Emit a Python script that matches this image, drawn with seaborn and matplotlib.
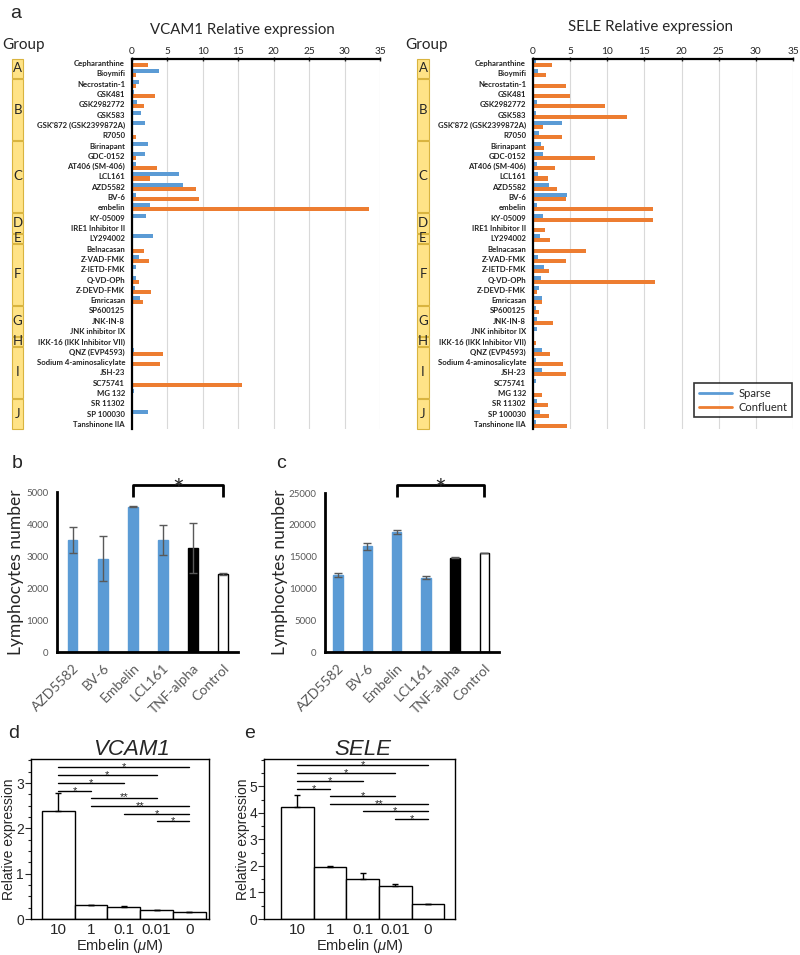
import numpy as np
import pandas as pd
import matplotlib
matplotlib.use('Agg')
import matplotlib.pyplot as plt
import seaborn as sns
import matplotlib.ticker as ticker
from matplotlib.patches import Rectangle
from matplotlib.lines import Line2D
from matplotlib.transforms import blended_transform_factory

sns.set_style('white')
plt.rcParams['font.family'] = ['Lato', 'DejaVu Sans']
plt.rcParams['mathtext.fontset'] = 'custom'
plt.rcParams['mathtext.rm'] = 'Liberation Sans'
plt.rcParams['mathtext.it'] = 'Liberation Sans:italic'

HELV = ['Liberation Sans', 'DejaVu Sans']
BLUE = '#5B9BD5'
ORANGE = '#ED7D31'
GRAY = '#595959'

# --- panel a: screening data ---
drugs = ['Cepharanthine', 'Bioymifi', 'Necrostatin-1', 'GSK481', 'GSK2982772', 'GSK583',
         "GSK'872 (GSK2399872A)", 'R7050', 'Birinapant', 'GDC-0152', 'AT406 (SM-406)',
         'LCL161', 'AZD5582', 'BV-6', 'embelin', 'KY-05009', 'IRE1 Inhibitor II', 'LY294002',
         'Belnacasan', 'Z-VAD-FMK', 'Z-IETD-FMK', 'Q-VD-OPh', 'Z-DEVD-FMK', 'Emricasan',
         'SP600125', 'JNK-IN-8', 'JNK inhibitor IX', 'IKK-16 (IKK Inhibitor VII)',
         'QNZ (EVP4593)', 'Sodium 4-aminosalicylate', 'JSH-23', 'SC75741', 'MG 132',
         'SR 11302', 'SP 100030', 'Tanshinone IIA']
groups = ['A', 'B', 'C', 'D', 'E', 'F', 'G', 'H', 'I', 'J']
group_sizes = [2, 6, 7, 2, 1, 6, 3, 1, 5, 3]

vcam_sparse = [0.1, 3.8, 1.0, 0.3, 0.7, 1.2, 1.8, 0.0, 2.2, 1.9, 0.5, 6.6, 7.2, 0.6, 2.5, 2.0,
               0.0, 3.0, 0.0, 1.0, 0.5, 0.5, 0.45, 1.1, 0.2, 0.15, 0.15, 0.0, 0.3, 0.1,
               0.0, 0.0, 0.3, 0.15, 2.3, 0.0]
vcam_confluent = [2.2, 0.5, 0.5, 3.3, 1.7, 0.0, 0.0, 0.5, 0.0, 0.5, 3.5, 2.6, 9.0, 9.4, 33.4, 0.0,
                  0.0, 0.0, 1.7, 2.4, 0.0, 1.0, 2.7, 1.5, 0.0, 0.0, 0.0, 0.0, 4.4, 3.9,
                  0.0, 15.5, 0.0, 0.0, 0.0, 0.0]
sele_sparse = [0.45, 0.7, 0.1, 0.1, 0.6, 0.45, 3.9, 0.8, 1.05, 1.35, 0.5, 0.7, 2.2, 4.6, 0.55, 1.35,
               0.15, 0.9, 0.1, 0.7, 1.45, 1.1, 0.8, 1.2, 0.45, 0.6, 0.5, 0.1, 1.2, 0.45,
               1.25, 0.45, 0.1, 0.5, 1.0, 0.45]
sele_confluent = [2.6, 1.8, 4.4, 5.0, 9.7, 12.7, 1.35, 3.9, 1.5, 8.4, 3.0, 2.0, 3.2, 4.5, 16.2, 16.2,
                  1.6, 2.3, 7.2, 4.4, 2.1, 16.4, 0.5, 1.2, 0.8, 2.7, 0.0, 0.4, 2.3, 4.1,
                  4.4, 0.1, 1.25, 2.0, 2.1, 4.55]

# --- panels b, c: lymphocyte adhesion ---
cells = ['AZD5582', 'BV-6', 'Embelin', 'LCL161', 'TNF-alpha', 'Control']
cell_colors = [BLUE, BLUE, BLUE, BLUE, 'black', 'white']
lymph_b = [3500, 2920, 4540, 3500, 3260, 2440]
lymph_b_err = [420, 690, 20, 470, 780, 20]
lymph_c = [12100, 16600, 18900, 11700, 14850, 15500]
lymph_c_err = [350, 500, 300, 200, 120, 0]

# --- panels d, e: embelin dose response ---
conc = ['10', '1', '0.1', '0.01', '0']
vcam_emb = [2.39, 0.31, 0.26, 0.19, 0.15]
vcam_emb_err = [0.38, 0.0, 0.02, 0.0, 0.0]
sele_emb = [4.22, 1.97, 1.51, 1.26, 0.57]
sele_emb_err = [0.45, 0.03, 0.21, 0.07, 0.0]
vcam_sig = [(0, 4, 3.35, '*'), (0, 3, 3.17, '*'), (0, 2, 2.99, '*'), (0, 1, 2.82, '*'),
            (1, 3, 2.68, '**'), (1, 4, 2.50, '**'), (2, 4, 2.32, '*'), (3, 4, 2.17, '*')]
sele_sig = [(0, 4, 5.79, '*'), (0, 3, 5.50, '*'), (0, 2, 5.19, '*'), (0, 1, 4.91, '*'),
            (1, 3, 4.65, '*'), (1, 4, 4.33, '**'), (2, 4, 4.06, '*'), (3, 4, 3.78, '*')]

fig = plt.figure(figsize=(8, 9.55), dpi=100)


def px_axes(x0, y0, x1, y1):
    return fig.add_axes([x0 / 800, 1 - y1 / 955, (x1 - x0) / 800, (y1 - y0) / 955])


def expression_panel(ax, sparse, confluent, box_x, group_x):
    df = pd.DataFrame({'drug': drugs * 2,
                       'value': sparse + confluent,
                       'cond': ['Sparse'] * len(drugs) + ['Confluent'] * len(drugs)})
    sns.barplot(data=df, x='value', y='drug', hue='cond', orient='h',
                palette=[BLUE, ORANGE], saturation=1, width=0.78, linewidth=0,
                errorbar=None, legend=False, ax=ax)
    ax.set_xlim(0, 35)
    ax.set_ylim(len(drugs) - 0.5, -0.4)
    ax.xaxis.tick_top()
    ax.set_xticks(range(0, 36, 5))
    ax.tick_params(axis='x', labelsize=7.3, length=3, width=1, pad=1, direction='inout')
    ax.tick_params(axis='y', labelsize=5.6, length=0, pad=5)
    plt.setp(ax.get_yticklabels(), fontweight='bold', color='#222222')
    ax.grid(axis='x', color='#d9d9d9', lw=0.8)
    ax.set_axisbelow(True)
    for s in ['bottom', 'right']:
        ax.spines[s].set_visible(False)
    for s in ['top', 'left']:
        ax.spines[s].set_linewidth(1.6)
        ax.spines[s].set_color('black')
    ax.set_xlabel('')
    ax.set_ylabel('')

    # yellow group boxes left of the drug names
    trans = blended_transform_factory(ax.transAxes, ax.transData)
    box_w = 0.046
    start = 0
    for g, n in zip(groups, group_sizes):
        ax.add_patch(Rectangle((box_x, start - 0.42), box_w, n - 0.12, transform=trans,
                               facecolor='#FFE387', edgecolor='#D9B43F', lw=0.8, clip_on=False))
        ax.text(box_x + box_w / 2, start + (n - 1) / 2, g, transform=trans,
                ha='center', va='center', fontsize=9.5)
        start += n
    ax.text(group_x, 1.038, 'Group', transform=ax.transAxes, fontsize=11, ha='left', va='center')


ax_a1 = px_axes(132, 59, 380, 429)
expression_panel(ax_a1, vcam_sparse, vcam_confluent, -0.484, -0.524)
ax_a2 = px_axes(533, 59, 793, 429)
expression_panel(ax_a2, sele_sparse, sele_confluent, -0.446, -0.492)
handles = [Line2D([], [], color=BLUE, lw=2), Line2D([], [], color=ORANGE, lw=2)]
leg = ax_a2.legend(handles, ['Sparse', 'Confluent'], loc='lower right', bbox_to_anchor=(0.996, 0.032),
                   borderaxespad=0, frameon=True, fancybox=False, edgecolor='black', fontsize=8,
                   handlelength=3, borderpad=0.4, labelspacing=0.25, handletextpad=0.6)
leg.get_frame().set_linewidth(1.2)
fig.text(242 / 800, 1 - 30 / 955, 'VCAM1 Relative expression', ha='center', va='center', fontsize=10.8)
fig.text(650 / 800, 1 - 27 / 955, 'SELE Relative expression', ha='center', va='center', fontsize=10.8)


def lymph_panel(ax, values, errs, ymax, step, bracket, xlim, label_x):
    sns.barplot(x=cells, y=values, hue=cells, palette=cell_colors, saturation=1,
                width=0.32, errorbar=None, legend=False, ax=ax)
    for patch, c in zip(ax.patches, cell_colors):
        patch.set_edgecolor('black' if c == 'white' else c)
        patch.set_linewidth(1)
    ax.errorbar(range(len(cells)), values, yerr=errs, fmt='none', ecolor=GRAY,
                elinewidth=1, capsize=3, capthick=1)
    ax.set_ylim(0, ymax)
    ax.set_xlim(*xlim)
    ax.set_yticks(np.arange(0, ymax + 1, step))
    ax.tick_params(axis='y', labelsize=7, labelcolor=GRAY, length=3, width=1, color='black', pad=3)
    ax.tick_params(axis='x', length=0, pad=7)
    plt.setp(ax.get_xticklabels(), rotation=45, ha='right', rotation_mode='anchor',
             fontsize=10, color=GRAY)
    for s in ['top', 'right']:
        ax.spines[s].set_visible(False)
    for s in ['left', 'bottom']:
        ax.spines[s].set_linewidth(2)
        ax.spines[s].set_color('black')
    ax.set_ylabel('Lymphocytes number', fontsize=12.5)
    ax.yaxis.set_label_coords(label_x, 0.5)
    top, leg_y = bracket
    ax.plot([2, 2, 5, 5], [leg_y, top, top, leg_y], color='black', lw=2, clip_on=False,
            solid_capstyle='butt')
    ax.annotate('*', xy=(3.5, top), xytext=(0, -11), textcoords='offset points', ha='center',
                va='baseline', fontsize=20, annotation_clip=False)


ax_b = px_axes(57, 492, 238, 652)
lymph_panel(ax_b, lymph_b, lymph_b_err, 5000, 1000, (5220, 4840), (-0.52, 5.5), -0.18)
ax_c = px_axes(325, 493, 499, 652)
lymph_panel(ax_c, lymph_c, lymph_c_err, 25000, 5000, (26260, 24370), (-0.45, 5.5), -0.215)


def embelin_panel(ax, values, errs, sig, ymax, yticks, title, title_x, xlim, minor, label_x):
    sns.barplot(x=conc, y=values, color='white', edgecolor='black', linewidth=1,
                width=1.0, saturation=1, errorbar=None, ax=ax)
    ax.errorbar(range(len(conc)), values, yerr=[np.zeros(len(errs)), errs], fmt='none',
                ecolor='black', elinewidth=1, capsize=2, capthick=1)
    for i, j, y, lab in sig:
        ax.plot([i, j], [y, y], color='black', lw=1)
        ax.text((i + j) / 2, y, lab, ha='center', va='center', fontsize=8, family=HELV)
    ax.set_ylim(0, ymax)
    ax.set_xlim(*xlim)
    ax.set_yticks(yticks)
    ax.yaxis.set_minor_locator(ticker.AutoMinorLocator(minor))
    ax.tick_params(axis='y', which='major', left=True, length=4, width=0.8, labelsize=10, pad=1)
    ax.tick_params(axis='y', which='minor', left=True, length=2, width=0.8)
    ax.tick_params(axis='x', length=0, labelsize=11, pad=3)
    for s in ax.spines.values():
        s.set_visible(True)
        s.set_linewidth(1)
        s.set_color('black')
    for lbl in ax.get_xticklabels() + ax.get_yticklabels():
        lbl.set_fontfamily(HELV)
    ax.set_title(title, fontstyle='italic', fontsize=16, pad=3, x=title_x, family=HELV)
    ax.set_xlabel('Embelin ($\\mu$M)', fontsize=10.5, labelpad=0, family=HELV)
    ax.set_ylabel('Relative expression', fontsize=10, family=HELV)
    ax.yaxis.set_label_coords(label_x, 0.5)


ax_d = px_axes(31, 759, 209, 919)
embelin_panel(ax_d, vcam_emb, vcam_emb_err, vcam_sig, 3.53, [0, 1, 2, 3], 'VCAM1', 0.565,
              (-0.83, 4.6), 4, -0.085)
ax_e = px_axes(264, 759, 455, 919)
embelin_panel(ax_e, sele_emb, sele_emb_err, sele_sig, 6.03, [0, 1, 2, 3, 4, 5], 'SELE', 0.518,
              (-1.02, 4.83), 2, -0.075)

for letter, x, y in [('a', 10, 14), ('b', 12, 463), ('c', 276, 463), ('d', 8, 733), ('e', 244, 733)]:
    fig.text(x / 800, 1 - y / 955, letter, fontsize=14, va='center', family=HELV)

fig.savefig('out.png', dpi=100)
